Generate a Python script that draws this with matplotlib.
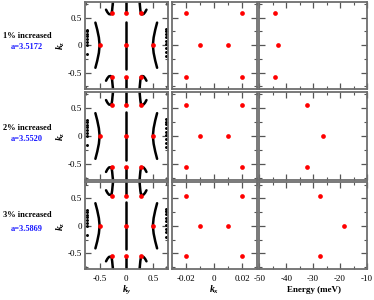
import matplotlib
matplotlib.use("Agg")
import matplotlib.pyplot as plt
from matplotlib.ticker import MultipleLocator

plt.rcParams['font.family'] = ['Liberation Serif', 'DejaVu Serif']
plt.rcParams['axes.unicode_minus'] = False
plt.rcParams['mathtext.fontset'] = 'custom'
plt.rcParams['mathtext.it'] = 'Liberation Serif:italic:bold'
plt.rcParams['mathtext.rm'] = 'Liberation Serif:bold'

# row labels
strain_labels = ["1% increased", "2% increased", "3% increased"]
lattice_labels = ["a=3.5172", "a=3.5520", "a=3.5869"]

# red points: kz of the outer nodes per row
kz_top = [0.58, 0.565, 0.55]

# ky-kz panel nodes (kz given as sign of kz_top)
ky_nodes = [-0.27, 0.0, 0.27, -0.5, 0.0, 0.5, -0.27, 0.0, 0.27]
kz_sign = [1, 1, 1, 0, 0, 0, -1, -1, -1]

# kx-kz panel nodes
kx_nodes = [-0.02, 0.02, -0.01, 0.01, -0.02, 0.02]
kz_sign_x = [1, 1, 0, 0, -1, -1]

# energy of the nodes (top, middle, bottom) per row
energy_nodes = [
    [-44.2, -43.0, -44.2],
    [-32.2, -26.4, -32.2],
    [-27.3, -18.6, -27.3],
]

# Fermi-arc like curves in the ky-kz plane (black)
arc_l_ky = [-0.58, -0.545, -0.515, -0.50, -0.515, -0.545, -0.58]
arc_r_ky = [0.58, 0.545, 0.515, 0.50, 0.515, 0.545, 0.58]
arc_kz = [0.41, 0.28, 0.14, 0.0, -0.14, -0.28, -0.41]

mid_ky = [0.0, 0.0]
mid_kz = [0.43, -0.43]
stub_top_kz = [0.58, 0.79]
stub_bot_kz = [-0.58, -0.79]

hook_l_ky = [-0.38, -0.355, -0.325, -0.295, -0.275, -0.265, -0.258, -0.25]
hook_r_ky = [0.38, 0.355, 0.325, 0.295, 0.275, 0.265, 0.258, 0.25]
hook_top_kz = [0.645, 0.60, 0.565, 0.56, 0.58, 0.64, 0.71, 0.79]
hook_bot_kz = [-0.645, -0.60, -0.565, -0.56, -0.58, -0.64, -0.71, -0.79]

edge_l_ky = [-0.73] * 8
edge_l_kz = [0.28, 0.25, 0.20, 0.16, 0.11, 0.05, 0.0, -0.16]
edge_r_ky = [0.74] * 9
edge_r_kz = [0.30, 0.26, 0.21, 0.15, 0.08, 0.02, -0.05, -0.12, -0.20]

W, H = 374, 300
fig = plt.figure(figsize=(W / 100, H / 100), dpi=100)

cols = [(84.5, 168.0), (172.0, 256.5), (259.3, 367.0)]
rows = [(1.7, 88.7), (92.0, 180.0), (182.3, 269.3)]


def make_ax(c, r):
    x0, x1 = cols[c]
    y0, y1 = rows[r]
    ax = fig.add_axes([x0 / W, 1 - y1 / H, (x1 - x0) / W, (y1 - y0) / H])
    for s in ax.spines.values():
        s.set_color('#6e6e6e')
        s.set_linewidth(1.3)
    ax.tick_params(which='both', direction='in', top=True, right=True,
                   colors='#555555', labelcolor='black', labelsize=6.5)
    ax.tick_params(axis='x', pad=4)
    ax.tick_params(axis='y', pad=2)
    ax.tick_params(which='major', length=4, width=0.9)
    ax.tick_params(which='minor', length=2.5, width=0.8)
    ax.set_ylim(-0.79, 0.79)
    ax.yaxis.set_major_locator(MultipleLocator(0.5))
    ax.yaxis.set_minor_locator(MultipleLocator(0.25))
    return ax


for r in range(3):
    kt = kz_top[r]
    # ky-kz
    ax = make_ax(0, r)
    ax.set_xlim(-0.785, 0.785)
    ax.xaxis.set_major_locator(MultipleLocator(0.5))
    ax.xaxis.set_minor_locator(MultipleLocator(0.25))
    ax.set_yticks([-0.5, 0, 0.5])
    ax.set_yticklabels(['-0.5', '0', '0.5'])
    for xs, ys in [(arc_l_ky, arc_kz), (arc_r_ky, arc_kz), (mid_ky, mid_kz),
                   (mid_ky, stub_top_kz), (mid_ky, stub_bot_kz),
                   (hook_l_ky, hook_top_kz), (hook_r_ky, hook_top_kz),
                   (hook_l_ky, hook_bot_kz), (hook_r_ky, hook_bot_kz)]:
        ax.plot(xs, ys, color='black', lw=1.8, solid_capstyle='round', zorder=2)
    ax.plot(edge_l_ky, edge_l_kz, 'o', color='black', ms=1.1, zorder=2)
    ax.plot(edge_r_ky, edge_r_kz, 'o', color='black', ms=1.1, zorder=2)
    ax.plot(ky_nodes, [s * kt for s in kz_sign], 'o', color='#ff0000',
            ms=3.4, mec='none', zorder=3)
    if r == 2:
        ax.set_xticks([-0.5, 0, 0.5])
        ax.set_xticklabels(['-0.5', '0', '0.5'])
    else:
        ax.set_xticklabels([])
    ax.set_ylabel(r'$k_z$', fontsize=7, labelpad=0.5)

    # kx-kz
    ax = make_ax(1, r)
    ax.set_xlim(-0.03, 0.03)
    ax.xaxis.set_major_locator(MultipleLocator(0.02))
    ax.xaxis.set_minor_locator(MultipleLocator(0.01))
    ax.plot(kx_nodes, [s * kt for s in kz_sign_x], 'o', color='#ff0000',
            ms=3.4, mec='none', zorder=3)
    ax.set_yticklabels([])
    if r == 2:
        ax.set_xticks([-0.02, 0, 0.02])
        ax.set_xticklabels(['-0.02', '0', '0.02'])
    else:
        ax.set_xticklabels([])

    # energy-kz
    ax = make_ax(2, r)
    ax.set_xlim(-50, -10)
    ax.xaxis.set_major_locator(MultipleLocator(10))
    ax.xaxis.set_minor_locator(MultipleLocator(5))
    ax.plot(energy_nodes[r], [kt, 0, -kt], 'o', color='#ff0000',
            ms=3.4, mec='none', zorder=3)
    ax.set_yticklabels([])
    if r == 2:
        ax.set_xticks([-50, -40, -30, -20, -10])
        ax.set_xticklabels(['-50', '-40', '-30', '-20', '-10'])
    else:
        ax.set_xticklabels([])

# axis titles
fig.text(126.7 / W, 1 - 290 / H, r'$k_y$', ha='center', va='center', fontsize=7)
fig.text(214.3 / W, 1 - 290 / H, r'$k_x$', ha='center', va='center', fontsize=7)
fig.text(314 / W, 1 - 290 / H, 'Energy (meV)', ha='center', va='center',
         fontsize=6.5, fontweight='bold')

# row annotations
label_y = [(35.7, 46.7), (127.7, 139.3), (215.0, 229.0)]
for r in range(3):
    fig.text(27 / W, 1 - label_y[r][0] / H, strain_labels[r], ha='center',
             va='center', fontsize=6.0, fontweight='bold', color='black')
    fig.text(27 / W, 1 - label_y[r][1] / H, lattice_labels[r], ha='center',
             va='center', fontsize=6.0, fontweight='bold', color='#1a1aff')

fig.savefig('out.png', dpi=100)
